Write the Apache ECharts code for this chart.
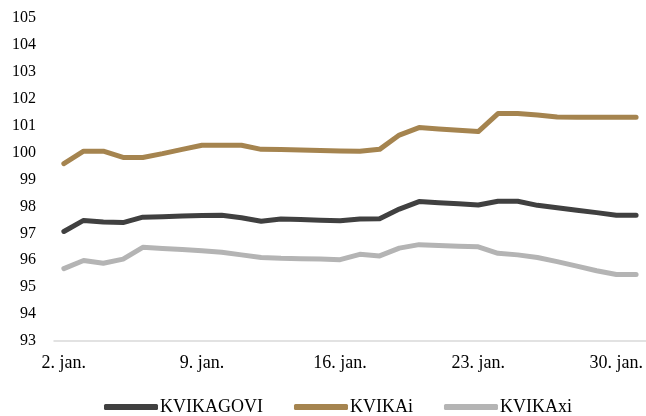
<!DOCTYPE html>
<html>
<head>
<meta charset="utf-8">
<script src="https://cdn.jsdelivr.net/npm/echarts@6/dist/echarts.min.js"></script>
<style>
  html, body { margin: 0; padding: 0; background: #fff; }
  #chart { width: 646px; height: 416px; }
</style>
</head>
<body>
<div id="chart"></div>
<script>
// dagar í janúar (2.-31.)
const days = []
for (let d = 2; d <= 31; d++) days.push(d + '. jan.')

const kvikaGovi = [97.07, 97.48, 97.42, 97.40, 97.60, 97.62, 97.64, 97.66, 97.67, 97.58,
  97.45, 97.53, 97.51, 97.49, 97.47, 97.53, 97.54, 97.90, 98.18, 98.14,
  98.10, 98.05, 98.19, 98.19, 98.04, 97.95, 97.86, 97.77, 97.67, 97.67]

const kvikaI = [99.59, 100.05, 100.05, 99.82, 99.82, 99.96, 100.12, 100.27, 100.27, 100.27,
  100.12, 100.11, 100.10, 100.08, 100.06, 100.05, 100.12, 100.65, 100.93, 100.88,
  100.83, 100.78, 101.45, 101.45, 101.40, 101.32, 101.31, 101.31, 101.31, 101.31]

const kvikaXi = [95.69, 95.99, 95.89, 96.04, 96.48, 96.44, 96.40, 96.35, 96.30, 96.20,
  96.10, 96.07, 96.06, 96.05, 96.02, 96.22, 96.16, 96.45, 96.58, 96.55,
  96.52, 96.50, 96.26, 96.20, 96.10, 95.95, 95.78, 95.61, 95.47, 95.47]

const names = ['KVIKAGOVI', 'KVIKAi', 'KVIKAxi']
const colors = ['#404040', '#a5844f', '#b4b4b4']

const font = { fontFamily: 'Liberation Serif', fontSize: 16, color: '#000' }

const chart = echarts.init(document.getElementById('chart'))

const line = (name, data, color) => ({
  name: name,
  type: 'line',
  data: data,
  symbol: 'none',
  lineStyle: { width: 5, color: color, cap: 'round', join: 'round' },
  itemStyle: { color: color }
})

chart.setOption({
  animation: false,
  grid: { left: 54, right: -7, top: 18, bottom: 75 },
  legend: {
    bottom: -5,
    left: 99,
    itemGap: 31,
    itemWidth: 54,
    itemHeight: 6,
    icon: 'roundRect',
    textStyle: { ...font, fontSize: 18, padding: [0, 0, 0, -3] },
    data: names
  },
  xAxis: {
    type: 'category',
    data: days,
    boundaryGap: true,
    axisLine: { lineStyle: { color: '#d9d9d9', width: 1.5 } },
    axisTick: { show: false },
    axisLabel: { ...font, fontSize: 18, interval: 6, margin: 13 }
  },
  yAxis: {
    type: 'value',
    min: 93,
    max: 105,
    interval: 1,
    splitLine: { show: false },
    axisLine: { show: false },
    axisTick: { show: false },
    axisLabel: { ...font, margin: 18 }
  },
  series: [
    line(names[0], kvikaGovi, colors[0]),
    line(names[1], kvikaI, colors[1]),
    line(names[2], kvikaXi, colors[2])
  ]
})
</script>
</body>
</html>
